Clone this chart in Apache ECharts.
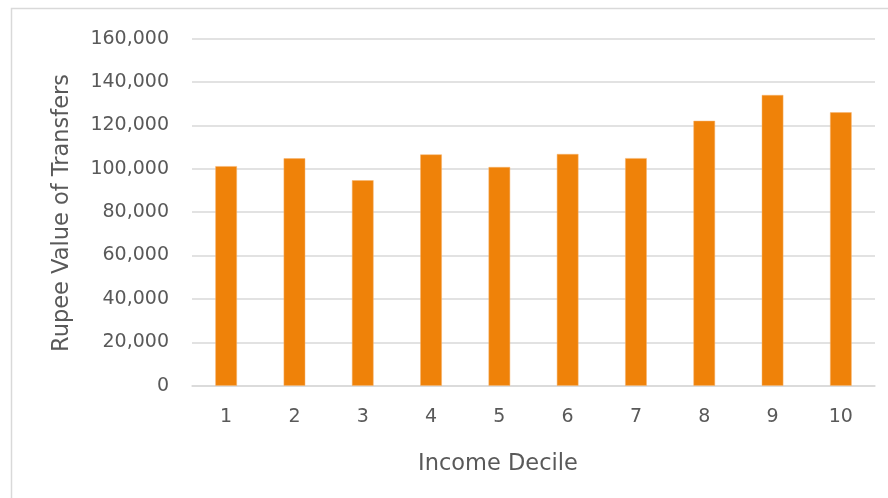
<!DOCTYPE html>
<html>
<head>
<meta charset="utf-8">
<title>Rupee Value of Transfers by Income Decile</title>
<script src="https://cdn.jsdelivr.net/npm/echarts@6/dist/echarts.min.js"></script>
<style>
  html, body { margin: 0; padding: 0; background: #ffffff; }
  #chart { width: 888px; height: 498px; }
</style>
</head>
<body>
<div id="chart"></div>
<script>
// Income deciles and average rupee value of transfers received
const deciles = ['1', '2', '3', '4', '5', '6', '7', '8', '9', '10'];
const transferValues = [101200, 104800, 94700, 106600, 100800, 106800, 104900, 122100, 134000, 126000];

// Value axis range and step
const yMin = 0;
const yMax = 160000;
const yStep = 20000;

const xTitle = 'Income Decile';
const yTitle = 'Rupee Value of Transfers';

const textColor = '#595959';
const gridColor = '#d9d9d9';
const barColor = '#ef8209';
const fontFamily = '"DejaVu Sans", "Noto Sans", sans-serif';

const chart = echarts.init(document.getElementById('chart'), null, { renderer: 'canvas' });

chart.setOption({
  animation: false,
  backgroundColor: '#ffffff',
  grid: { left: 192, right: 13, top: 38.6, bottom: 112.3, containLabel: false },
  xAxis: {
    type: 'category',
    data: deciles,
    axisLine: { show: true, lineStyle: { color: gridColor, width: 1.5 } },
    axisTick: { show: false },
    axisLabel: { color: textColor, fontSize: 19, fontFamily: fontFamily, margin: 22 }
  },
  yAxis: {
    type: 'value',
    min: yMin,
    max: yMax,
    interval: yStep,
    axisLine: { show: false },
    axisTick: { show: false },
    splitLine: { lineStyle: { color: gridColor, width: 1.5 } },
    axisLabel: {
      color: textColor,
      fontSize: 19,
      fontFamily: fontFamily,
      margin: 23,
      formatter: function (v) { return v.toLocaleString('en-US'); }
    }
  },
  series: [{
    type: 'bar',
    data: transferValues,
    barWidth: '31.6%',
    itemStyle: { color: barColor, borderColor: '#f6b46e', borderWidth: 0.5 }
  }],
  graphic: [
    {
      type: 'rect',
      silent: true,
      shape: { x: 11.5, y: 8.5, width: 900, height: 520 },
      style: { fill: 'none', stroke: gridColor, lineWidth: 1.5 },
      z: -1
    },
    {
      type: 'text',
      x: 498,
      y: 464,
      style: {
        text: xTitle,
        fill: textColor,
        font: '22.5px ' + fontFamily,
        textAlign: 'center',
        textVerticalAlign: 'middle'
      }
    },
    {
      type: 'text',
      x: 62,
      y: 213,
      rotation: Math.PI / 2,
      style: {
        text: yTitle,
        fill: textColor,
        font: '22.5px ' + fontFamily,
        textAlign: 'center',
        textVerticalAlign: 'middle'
      }
    }
  ]
});
</script>
</body>
</html>
